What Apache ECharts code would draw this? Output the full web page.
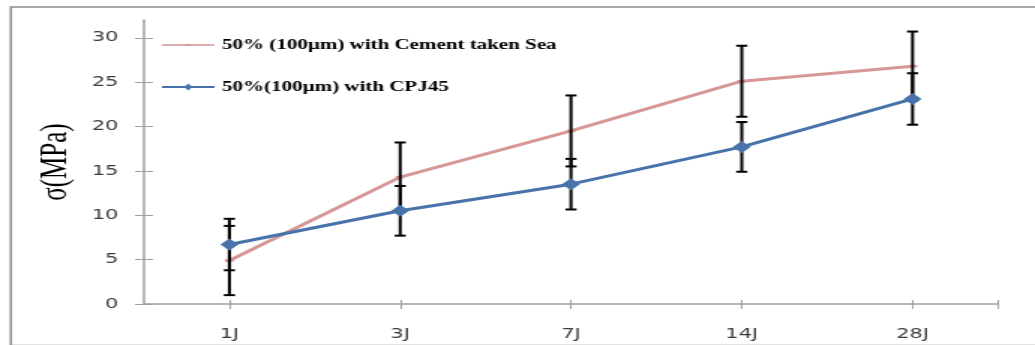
<!DOCTYPE html>
<html>
<head>
<meta charset="utf-8">
<script src="https://cdn.jsdelivr.net/npm/echarts@6/dist/echarts.min.js"></script>
<style>
html,body{margin:0;padding:0;background:#fff;overflow:hidden;}
#chart{width:690px;height:345px;transform:scaleX(1.5);transform-origin:0 0;}
</style>
</head>
<body>
<div id="chart"></div>
<script>
// ---- data ----
const categories = ['1J', '3J', '7J', '14J', '28J'];
const seaName = '50% (100\u00b5m) with Cement taken Sea';
const cpjName = '50%(100\u00b5m) with CPJ45';
const seaValues = [4.9, 14.3, 19.5, 25.1, 26.8];
const seaErrors = [3.9, 3.9, 4.0, 4.0, 3.9];
const cpjValues = [6.7, 10.5, 13.5, 17.7, 23.1];
const cpjErrors = [2.9, 2.8, 2.85, 2.8, 2.9];
const yTicks = [0, 5, 10, 15, 20, 25, 30];
const xTickPositions = [0.5, 1.5, 2.5, 3.5, 4.5, 5];
const yTitle = '\u03c3(MPa)';

const axisGray = '#a0a0a0';
const labelColor = '#3c3c3c';
const seaColor = '#d69796';
const cpjColor = '#4773aa';

function errData(vals, errs) {
  return vals.map((v, i) => [i, v - errs[i], v + errs[i]]);
}
function errRender(params, api) {
  const x = api.value(0);
  const lo = api.coord([x, api.value(1)]);
  const hi = api.coord([x, api.value(2)]);
  const hw = 3.7;
  const st = { stroke: '#000', lineWidth: 2 };
  return {
    type: 'group',
    children: [
      { type: 'line', shape: { x1: lo[0], y1: lo[1], x2: hi[0], y2: hi[1] }, style: st },
      { type: 'line', shape: { x1: lo[0] - hw, y1: lo[1], x2: lo[0] + hw, y2: lo[1] }, style: st },
      { type: 'line', shape: { x1: hi[0] - hw, y1: hi[1], x2: hi[0] + hw, y2: hi[1] }, style: st }
    ]
  };
}

const chart = echarts.init(document.getElementById('chart'), null, { renderer: 'canvas' });
chart.setOption({
  animation: false,
  backgroundColor: '#fff',
  grid: { left: 96, right: 24.7, top: 20, bottom: 41 },
  graphic: [{
    type: 'rect', left: 4.7, top: 4.5, silent: true,
    shape: { width: 720, height: 338.5 },
    style: { fill: 'none', stroke: '#8c8c8c', lineWidth: 1.5 }
  }],
  legend: {
    orient: 'vertical', left: 103, top: 33,
    itemWidth: 35, itemHeight: 10, itemGap: 28,
    symbolKeepAspect: true,
    data: [
      { name: seaName, icon: 'path://M0,4.3h35v1.4h-35z M15.5,4h4v2h-4z' },
      { name: cpjName, icon: 'path://M0,4.1h35v1.8h-35z M17.5,1.6L20.3,5L17.5,8.4L14.7,5z' }
    ],
    textStyle: { fontFamily: 'Liberation Serif', fontWeight: 'bold', fontSize: 14, color: '#000' }
  },
  xAxis: [{
    type: 'category', data: categories, boundaryGap: true,
    axisLine: { lineStyle: { color: axisGray, width: 1.5 } },
    axisTick: { show: false },
    splitLine: { show: false },
    axisLabel: { margin: 23, fontFamily: 'DejaVu Sans', fontSize: 14, color: labelColor }
  }, {
    type: 'value', min: 0, max: 5, position: 'bottom',
    axisLine: { show: false }, splitLine: { show: false },
    axisLabel: { show: false },
    axisTick: { show: true, length: 5, customValues: xTickPositions, lineStyle: { color: axisGray, width: 1 } }
  }, {
    type: 'value', min: 0, max: 5, position: 'bottom',
    axisLine: { show: false }, splitLine: { show: false },
    axisLabel: { show: false },
    axisTick: { show: true, inside: true, length: 4, customValues: xTickPositions, lineStyle: { color: axisGray, width: 1 } }
  }],
  yAxis: [{
    type: 'value', min: 0, max: 32,
    name: yTitle, nameLocation: 'middle', nameRotate: 90, nameGap: 46,
    nameTextStyle: { fontFamily: 'Liberation Serif', fontSize: 25, color: '#000' },
    axisLine: { show: true, lineStyle: { color: axisGray, width: 1.5 } },
    axisTick: { show: true, length: 6, customValues: yTicks, lineStyle: { color: axisGray, width: 1 } },
    splitLine: { show: false },
    axisLabel: { margin: 17, customValues: yTicks, fontFamily: 'DejaVu Sans', fontSize: 14, color: labelColor }
  }, {
    type: 'value', min: 0, max: 32, position: 'left',
    axisLine: { show: false }, splitLine: { show: false },
    axisLabel: { show: false },
    axisTick: { show: true, inside: true, length: 6, customValues: yTicks, lineStyle: { color: axisGray, width: 1 } }
  }],
  series: [{
    name: seaName, type: 'line', xAxisIndex: 0, yAxisIndex: 0, z: 2,
    data: seaValues,
    symbol: 'rect', symbolSize: [6, 2.5], showSymbol: true,
    itemStyle: { color: seaColor },
    lineStyle: { color: seaColor, width: 3 }
  }, {
    name: 'seaErr', type: 'custom', xAxisIndex: 0, yAxisIndex: 0, z: 3,
    data: errData(seaValues, seaErrors), renderItem: errRender, silent: true
  }, {
    name: 'cpjErr', type: 'custom', xAxisIndex: 0, yAxisIndex: 0, z: 3,
    data: errData(cpjValues, cpjErrors), renderItem: errRender, silent: true
  }, {
    name: cpjName, type: 'line', xAxisIndex: 0, yAxisIndex: 0, z: 4,
    data: cpjValues,
    symbol: 'diamond', symbolSize: 12, showSymbol: true,
    itemStyle: { color: cpjColor },
    lineStyle: { color: cpjColor, width: 3 }
  }]
});
</script>
</body>
</html>
